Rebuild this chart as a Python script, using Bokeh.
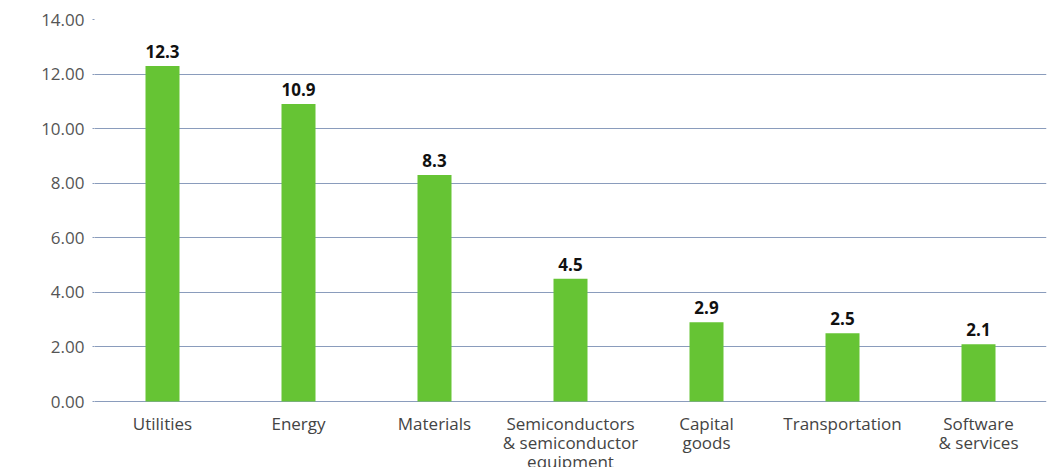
from bokeh.plotting import figure
from bokeh.models import ColumnDataSource, FixedTicker, Range1d
from bokeh.core.properties import value
from bokeh.embed import file_html
from bokeh.resources import INLINE

categories = ["Utilities", "Energy", "Materials",
              "Semiconductors\n& semiconductor\nequipment",
              "Capital\ngoods", "Transportation", "Software\n& services"]
values = [12.3, 10.9, 8.3, 4.5, 2.9, 2.5, 2.1]
labels = ["12.3", "10.9", "8.3", "4.5", "2.9", "2.5", "2.1"]
y_ticks = [0, 2, 4, 6, 8, 10, 12, 14]

src = ColumnDataSource(dict(cat=categories, val=values, lab=labels))

# frame spans 19..467 px; 0..14 occupies 382 px, leaving 66 px below zero for labels
px_per_unit = 382 / 14
y_start = -66 / px_per_unit

p = figure(x_range=categories, y_range=Range1d(y_start, 14), width=1052, height=467,
           output_backend="svg", toolbar_location=None,
           min_border_left=94, min_border_right=6, min_border_top=19, min_border_bottom=0)
p.outline_line_color = None
p.background_fill_color = "white"
p.xaxis.visible = False

p.vbar(x="cat", top="val", width=0.25, source=src, color="#66c434", line_color=None)
p.text(x="cat", y="val", text="lab", source=src, y_offset=-8,
       text_align="center", text_baseline="bottom",
       text_font=value("Open Sans"), text_font_style="bold",
       text_font_size="17px", text_color="#111111")

# category labels, one text glyph per line for tight line spacing
split = [c.split("\n") for c in categories]
max_lines = max(len(s) for s in split)
for i in range(max_lines):
    cats = [c for c, s in zip(categories, split) if len(s) > i]
    texts = [s[i] for s in split if len(s) > i]
    lsrc = ColumnDataSource(dict(cat=cats, t=texts, base=[0] * len(cats)))
    p.text(x="cat", y="base", text="t", source=lsrc, y_offset=10 + 19 * i,
           text_align="center", text_baseline="top",
           text_font=value("Open Sans"), text_font_size="17px", text_color="#444444")

p.yaxis.ticker = FixedTicker(ticks=y_ticks)
p.yaxis.major_label_overrides = {t: f"{t:.2f}" for t in y_ticks}
p.yaxis.axis_line_color = None
p.yaxis.major_tick_line_color = "#8a9cbc"
p.yaxis.major_tick_out = 2
p.yaxis.major_tick_in = 0
p.yaxis.minor_tick_line_color = None
p.yaxis.major_label_text_font = "Open Sans"
p.yaxis.major_label_text_font_size = "17px"
p.yaxis.major_label_text_color = "#555555"
p.yaxis.major_label_standoff = 8

p.xgrid.grid_line_color = None
p.ygrid.grid_line_color = "#8a9cbc"
p.ygrid.grid_line_width = 1

open("out.html", "w").write(file_html(p, INLINE))
